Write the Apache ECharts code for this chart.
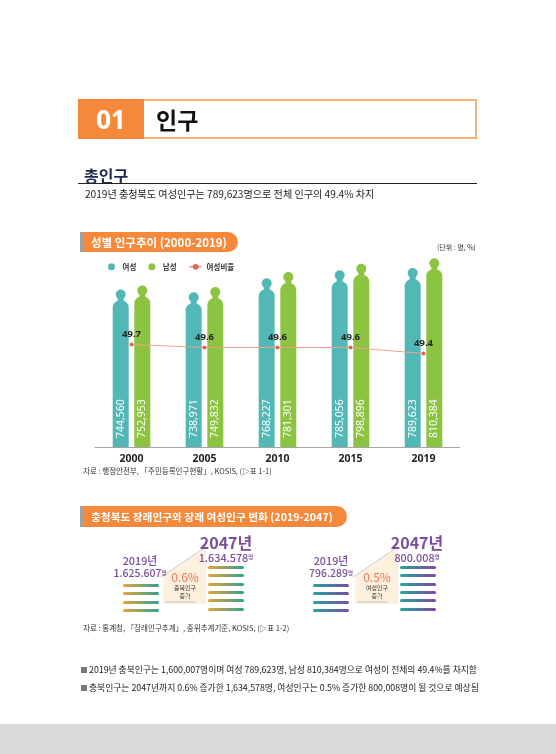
<!DOCTYPE html>
<html><head><meta charset="utf-8">
<script src="https://cdn.jsdelivr.net/npm/echarts@6/dist/echarts.min.js"></script>
<style>
html,body{margin:0;padding:0;background:#fff;}
body{width:556px;height:754px;position:relative;overflow:hidden;font-family:"Noto Sans CJK KR","Noto Sans",sans-serif;color:#222;}
.a{position:absolute;white-space:nowrap;z-index:2;}
#chart{position:absolute;left:0;top:0;width:556px;height:754px;z-index:1;}
.stripe{position:absolute;height:3px;border-radius:2px;z-index:2;}
</style></head>
<body>
<div class="a" style="left:78px;top:99px;width:66px;height:40px;background:#f5893b;color:#fff;font-weight:bold;font-size:26px;line-height:40px;text-align:center;font-family:'Noto Sans',sans-serif;">01</div>
<div class="a" style="left:144px;top:99px;width:333px;height:40px;box-sizing:border-box;border:2px solid #f6ad78;border-left:none;font-weight:bold;font-size:23px;line-height:36px;padding-left:12px;color:#111;">인구</div>
<div class="a" style="left:84px;top:163px;font-weight:bold;font-size:16px;color:#1f2a4c;">총인구</div>
<div class="a" style="left:78px;top:183px;width:399px;height:1px;background:#222;"></div>
<div class="a" style="left:85px;top:186px;font-size:10.1px;color:#222;" id="sub"></div>

<div class="a" style="left:80px;top:232px;width:3px;height:20px;background:#a0a0a0;"></div>
<div class="a" style="left:83px;top:232px;width:155px;height:20px;background:#f5893b;border-radius:0 10px 10px 0;color:#fff;font-weight:bold;font-size:11.5px;line-height:20px;padding-left:8px;box-sizing:border-box;">성별 인구추이 (2000-2019)</div>
<div class="a" style="right:80px;top:242px;font-size:7px;color:#333;">(단위 : 명, %)</div>

<div id="chart"></div>

<div class="a" style="left:83px;top:465px;font-size:7.5px;color:#333;">자료 : 행정안전부, 「주민등록인구현황」, KOSIS, (▷표 1-1)</div>

<div class="a" style="left:80px;top:506px;width:3px;height:21px;background:#a0a0a0;"></div>
<div class="a" style="left:83px;top:506px;width:264px;height:21px;background:#f5893b;border-radius:0 11px 11px 0;color:#fff;font-weight:bold;font-size:10.7px;line-height:21px;padding-left:8px;box-sizing:border-box;">충청북도 장래인구와 장래 여성인구 변화 (2019-2047)</div>

<svg class="a" style="left:0;top:0;" width="556" height="754">
  <polygon points="163,576 206,548 206,604 163,604" fill="#fdf0dd"/>
  <line x1="161" y1="577" x2="206" y2="547" stroke="#b9b9b9" stroke-width="0.8"/>
  <line x1="165" y1="602" x2="196" y2="602" stroke="#b9b9b9" stroke-width="0.8"/>
  <polygon points="355,576 398,548 398,604 355,604" fill="#fdf0dd"/>
  <line x1="353" y1="577" x2="398" y2="547" stroke="#b9b9b9" stroke-width="0.8"/>
  <line x1="357" y1="602" x2="388" y2="602" stroke="#b9b9b9" stroke-width="0.8"/>
</svg>
<div id="info"></div>

<div class="a" style="left:83px;top:622px;font-size:7.5px;color:#333;">자료 : 통계청, 「장래인구추계」, 중위추계기준, KOSIS, (▷표 1-2)</div>

<div class="a" style="left:81px;top:667px;width:6px;height:6px;background:#7a7a7a;"></div>
<div class="a" style="left:89px;top:663px;font-size:8.8px;color:#222;" id="b1"></div>
<div class="a" style="left:81px;top:685px;width:6px;height:6px;background:#7a7a7a;"></div>
<div class="a" style="left:89px;top:681px;font-size:8.8px;color:#222;" id="b2"></div>

<div class="a" style="left:0;top:724px;width:556px;height:30px;background:#d9d9d9;"></div>

<script>
// ---- data ----
const years = ['2000', '2005', '2010', '2015', '2019'];
const female = [744560, 738971, 768227, 785056, 789623];
const male = [752953, 749832, 781301, 798896, 810384];
const femaleRatio = [49.7, 49.6, 49.6, 49.6, 49.4];
const seriesNames = ['여성', '남성', '여성비율'];

const projYears = ['2019년', '2047년'];
const projTotal = [1625607, 1634578];
const projFemale = [796289, 800008];
const projRate = ['0.6%', '0.5%'];
const projRateLabel = ['충북인구', '여성인구'];
const totalPop2019 = 1600007;

// ---- helpers ----
const comma = v => v.toLocaleString('en-US');
const dot = v => v.toLocaleString('en-US').replace(/,/g, '.');

document.getElementById('sub').textContent =
  '2019년 충청북도 여성인구는 ' + comma(female[4]) + '명으로 전체 인구의 ' + femaleRatio[4] + '% 차지';
document.getElementById('b1').textContent =
  '2019년 충북인구는 ' + comma(totalPop2019) + '명이며 여성 ' + comma(female[4]) + '명, 남성 ' + comma(male[4]) +
  '명으로 여성이 전체의 ' + femaleRatio[4] + '%를 차지함';
document.getElementById('b2').textContent =
  '충북인구는 2047년까지 ' + projRate[0] + ' 증가한 ' + comma(projTotal[1]) + '명, 여성인구는 ' + projRate[1] +
  ' 증가한 ' + comma(projFemale[1]) + '명이 될 것으로 예상됨';

// ---- infographic ----
const info = document.getElementById('info');
function addText(x, y, html, style) {
  const d = document.createElement('div');
  d.className = 'a';
  d.style.cssText = 'left:' + x + 'px;top:' + y + 'px;transform:translateX(-50%);text-align:center;' + style;
  d.innerHTML = html;
  info.appendChild(d);
}
function addStripes(x, y0, n, grad) {
  for (let i = 0; i < n; i++) {
    const s = document.createElement('div');
    s.className = 'stripe';
    s.style.cssText = 'left:' + x + 'px;top:' + (y0 + i * 8.3) + 'px;width:36px;background:' + grad + ';';
    info.appendChild(s);
  }
}
const purple = '#7a4c9c';
const groups = [
  {vals: projTotal, x0: 140, x1: 226, sx0: 123, sx1: 208, rx: 185, grad: 'linear-gradient(to right,#e9a234,#2ea495)', rate: projRate[0], rl: projRateLabel[0]},
  {vals: projFemale, x0: 331, x1: 417, sx0: 313, sx1: 400, rx: 377, grad: 'linear-gradient(to right,#25a797,#7e48a6)', rate: projRate[1], rl: projRateLabel[1]}
];
groups.forEach(g => {
  addText(g.x0, 553, projYears[0], 'font-size:10.8px;font-weight:500;color:' + purple + ';line-height:14px;');
  addText(g.x0, 566, dot(g.vals[0]) + '<span style="font-size:5.5px;vertical-align:top;">명</span>', 'font-size:10.5px;font-weight:500;color:' + purple + ';line-height:14px;');
  addText(g.x1, 532, projYears[1], 'font-size:16px;font-weight:bold;color:' + purple + ';line-height:20px;');
  addText(g.x1, 550, dot(g.vals[1]) + '<span style="font-size:5.5px;vertical-align:top;">명</span>', 'font-size:10.8px;font-weight:500;color:' + purple + ';line-height:14px;');
  addText(g.rx, 569, g.rate, 'font-size:12px;color:#e8765c;line-height:15px;');
  addText(g.rx, 584, g.rl + '<br>증가', 'font-size:6px;color:#333;line-height:8px;');
  addStripes(g.sx0, 584, 4, g.grad);
  addStripes(g.sx1, 566, 6, g.grad);
});

// ---- chart ----
const teal = '#52b8b6', green = '#8cc340';
const BAR_W = 16, BAR_GAP = 0.35;
const halfStep = (BAR_W + BAR_W * BAR_GAP) / 2;   // centre offset of each bar from category centre
const chart = echarts.init(document.getElementById('chart'), null, {renderer: 'canvas'});
const barLabel = {
  show: true, position: 'insideBottom', distance: 9, rotate: 90, align: 'left', verticalAlign: 'middle',
  color: '#fff', fontSize: 10.5, fontFamily: 'Noto Sans', formatter: p => comma(p.value)
};
function headSeries(name, vals, dir, color) {
  return {
    name: name, type: 'custom', z: 3,
    data: vals.map((v, i) => [i, v]),
    encode: {x: 0, y: 1},
    renderItem: (params, api) => {
      const pt = api.coord([api.value(0), api.value(1)]);
      const cx = pt[0] + dir * halfStep, top = pt[1];
      return {
        type: 'group',
        children: [
          {type: 'circle', shape: {cx: cx, cy: top - 6, r: 5}, style: {fill: color}},
          {type: 'rect', shape: {x: cx - 3, y: top - 4, width: 6, height: 6}, style: {fill: color}}
        ]
      };
    }
  };
}
chart.setOption({
  animation: false,
  textStyle: {fontFamily: '"Noto Sans CJK KR","Noto Sans",sans-serif'},
  legend: {
    left: 103, top: 258, itemWidth: 12, itemHeight: 7, itemGap: 12,
    textStyle: {fontSize: 7.5, color: '#333', fontWeight: 'bold'},
    data: [{name: seriesNames[0], icon: 'circle'}, {name: seriesNames[1], icon: 'circle'}, {name: seriesNames[2]}]
  },
  grid: {left: 95, right: 96, top: 257, bottom: 307},
  xAxis: {
    type: 'category', data: years,
    axisLine: {lineStyle: {color: '#a5a5a5'}},
    axisTick: {inside: true, length: 5, lineStyle: {color: '#cfcfcf'}},
    axisLabel: {fontWeight: 'bold', fontSize: 10.5, color: '#222', margin: 7, fontFamily: 'Noto Sans'}
  },
  yAxis: [
    {type: 'value', min: 437000, max: 836000, show: false},
    {type: 'value', min: 46.28, max: 52.62, show: false}
  ],
  series: [
    {name: seriesNames[0], type: 'bar', data: female, barWidth: BAR_W, barGap: (BAR_GAP * 100) + '%',
      itemStyle: {color: teal, borderRadius: [7, 7, 0, 0]}, label: barLabel},
    {name: seriesNames[1], type: 'bar', data: male, barWidth: BAR_W, barGap: (BAR_GAP * 100) + '%',
      itemStyle: {color: green, borderRadius: [7, 7, 0, 0]}, label: barLabel},
    headSeries(seriesNames[0], female, -1, teal),
    headSeries(seriesNames[1], male, 1, green),
    {name: seriesNames[2], type: 'line', yAxisIndex: 1, data: femaleRatio, z: 5,
      symbol: 'circle', symbolSize: 4,
      lineStyle: {color: '#efa090', width: 1}, itemStyle: {color: '#e0644e'},
      label: {show: true, position: 'top', distance: 3, fontWeight: 'bold', fontSize: 9.5, color: '#222', fontFamily: 'Noto Sans'}}
  ]
});
</script>
</body></html>
